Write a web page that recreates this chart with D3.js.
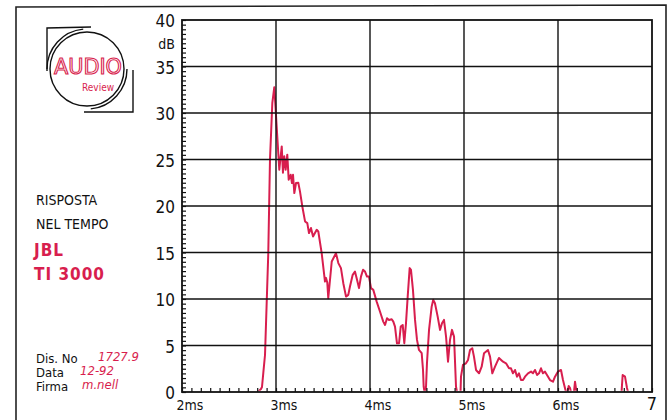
<!DOCTYPE html>
<html><head><meta charset="utf-8">
<script src="https://cdn.jsdelivr.net/npm/d3@7"></script>
<style>
html,body{margin:0;padding:0;background:#fff;}
text{font-family:"DejaVu Sans Condensed","DejaVu Sans",sans-serif;}
</style></head>
<body><svg id="c" width="671" height="420"></svg>
<script>
// time in ms
const timeMs = [2.809,2.840,2.851,2.865,2.883,2.918,2.936,2.961,2.982,3.007,3.035,3.061,3.074,3.088,3.103,3.120,3.135,3.156,3.170,3.181,3.195,3.213,3.237,3.255,3.280,3.309,3.333,3.351,3.372,3.394,3.433,3.450,3.486,3.521,3.532,3.546,3.556,3.593,3.638,3.663,3.691,3.716,3.745,3.769,3.787,3.816,3.840,3.862,3.883,3.904,3.926,3.947,3.968,3.989,4.011,4.035,4.071,4.106,4.141,4.160,4.181,4.202,4.231,4.248,4.266,4.287,4.309,4.327,4.348,4.365,4.383,4.401,4.422,4.436,4.457,4.479,4.500,4.521,4.550,4.564,4.571,4.580,4.590,4.596,4.606,4.628,4.656,4.673,4.691,4.720,4.745,4.766,4.787,4.809,4.830,4.851,4.872,4.894,4.915,4.926,4.963,4.968,4.989,5.021,5.043,5.064,5.088,5.106,5.128,5.160,5.188,5.213,5.255,5.277,5.301,5.330,5.372,5.415,5.447,5.479,5.500,5.521,5.543,5.564,5.585,5.606,5.628,5.649,5.681,5.713,5.734,5.755,5.777,5.798,5.819,5.840,5.862,5.883,5.915,5.947,5.968,6.000,6.032,6.053,6.074,6.085,6.101,6.114,6.128,6.138,6.170,6.181,6.197,6.676,6.688,6.713,6.734,6.745];
// level in dB
const levelDb = [0,0.32,0.54,2.05,3.98,14.97,24.98,31.1,32.77,28.57,23.9,26.41,23.58,25.34,23.9,25.52,22.83,23.36,22.47,23.36,21.39,22.47,22.5,21.57,19.95,18.34,18.16,17.09,17.63,16.72,17.44,17.26,14.93,11.88,12.27,11.74,10.09,14.03,14.93,13.86,13.32,11.7,10.26,10.44,11.34,12.6,12.95,12.06,11.17,12.41,13.14,12.95,12.41,12.41,11.17,10.98,9.72,8.65,7.57,7.21,7.94,7.75,7.83,7.57,7.03,5.24,5.24,7.03,7.21,5.24,7.4,10.26,13.32,13.14,10.98,7.75,5.6,4.52,4.17,2.37,0.57,0,0,0.57,3.09,6.68,9.18,9.91,9.55,8.11,6.68,7.4,7.75,5.95,3.26,5.6,6.68,5.95,0.57,0,0,1.65,2.91,3.09,3.45,4.52,4.71,3.8,2.37,2.01,2.72,4.17,4.52,3.8,2.01,2.72,3.66,3.26,3.09,2.55,2.55,2.01,2.37,1.65,2.01,1.29,1.29,1.65,2.01,2.19,2.01,2.37,1.83,2.01,2.55,2.01,2.19,1.83,1.29,1.11,1.65,2.19,2.37,1.29,0.43,0,0,0.65,0.43,0,0,1.11,0,0,1.83,1.65,0.43,0];
const yTickValues = [0,5,10,15,20,25,30,35,40];
const xTickValues = [2,3,4,5,6,7];
const xTickLabels = ["2ms","3ms","4ms","5ms","6ms","7"];
const titleLines = ["RISPOSTA","NEL TEMPO"];
const modelLines = ["JBL","TI 3000"];
const infoLabels = ["Dis. No","Data","Firma"];
const infoValues = ["1727.9","12-92","m.nell"];

const red = "#d81e4e";
const svg = d3.select("#c");
const x = d3.scaleLinear().domain([2,7]).range([182,652]);
const y = d3.scaleLinear().domain([0,40]).range([392,20]);

// outer frame
svg.append("path").attr("d","M16,420 L16,7 L666,5 L666,420").attr("fill","none").attr("stroke","#222").attr("stroke-width",1.6);

// curve (clipped above baseline)
svg.append("clipPath").attr("id","cl").append("rect")
  .attr("x",x(2)).attr("y",y(40)).attr("width",x(7)-x(2)).attr("height",y(0)-y(40)-1.2);
const pts = timeMs.map((t,i)=>[t,levelDb[i]]);
svg.append("path").datum(pts).attr("clip-path","url(#cl)")
  .attr("fill","none").attr("stroke",red).attr("stroke-width",2).attr("stroke-linejoin","round")
  .attr("d",d3.line().x(d=>x(d[0])).y(d=>y(d[1])));

// grid
const g = svg.append("g");
g.selectAll("line.h").data(yTickValues.filter(v=>v>0&&v<40)).join("line")
  .attr("x1",x(2)).attr("x2",x(7)).attr("y1",d=>y(d)).attr("y2",d=>y(d))
  .attr("stroke","#111").attr("stroke-width",1.4);
g.selectAll("line.v").data(xTickValues.filter(v=>v>2&&v<7)).join("line")
  .attr("y1",y(0)).attr("y2",y(40)).attr("x1",d=>x(d)).attr("x2",d=>x(d))
  .attr("stroke","#111").attr("stroke-width",1.4);
svg.append("rect").attr("x",x(2)).attr("y",y(40)).attr("width",x(7)-x(2)).attr("height",y(0)-y(40))
  .attr("fill","none").attr("stroke","#111").attr("stroke-width",1.8);

// minor ticks via axes
const yAx = d3.axisRight(y).ticks(80).tickSize(4).tickFormat("");
svg.append("g").attr("transform",`translate(${x(2)},0)`).call(yAx)
  .call(s=>{s.select(".domain").remove(); s.selectAll("line").attr("stroke","#111").attr("stroke-width",1.2);});
const xAx = d3.axisTop(x).ticks(50).tickSize(4).tickFormat("");
svg.append("g").attr("transform",`translate(0,${y(0)})`).call(xAx)
  .call(s=>{s.select(".domain").remove(); s.selectAll("line").attr("stroke","#111").attr("stroke-width",1.2);});

// tick labels
svg.selectAll("text.yl").data(yTickValues).join("text")
  .attr("x",175).attr("y",d=>y(d)+7).attr("text-anchor","end")
  .attr("font-size",17).attr("fill","#111").text(d=>d);
svg.append("text").attr("x",175).attr("y",y(40)+29).attr("text-anchor","end").attr("font-size",14).attr("fill","#111").text("dB");
svg.selectAll("text.xl").data(xTickValues).join("text")
  .attr("x",(d,i)=>x(d)+(i===5?0:8)).attr("y",410).attr("text-anchor","middle")
  .attr("font-size",(d,i)=>i===5?18:14).attr("fill","#111").text((d,i)=>xTickLabels[i]);

// left texts
svg.selectAll("text.t").data(titleLines).join("text")
  .attr("x",36).attr("y",(d,i)=>205+i*24).attr("font-size",14).attr("fill","#111").text(d=>d);
svg.selectAll("text.m").data(modelLines).join("text")
  .attr("x",34).attr("y",(d,i)=>256+i*24).attr("font-size",17).attr("font-weight","bold")
  .attr("letter-spacing",1).attr("fill",red).text(d=>d);
svg.selectAll("text.il").data(infoLabels).join("text")
  .attr("x",36).attr("y",(d,i)=>363+i*14).attr("font-size",13).attr("fill","#111").text(d=>d);
svg.selectAll("text.iv").data(infoValues).join("text")
  .attr("x",(d,i)=>[98,80,82][i]).attr("y",(d,i)=>361+i*14).attr("font-size",13)
  .attr("font-style","italic").attr("fill",red).text(d=>d);

// logo
const lg = svg.append("g");
lg.append("circle").attr("cx",87).attr("cy",69).attr("r",37).attr("fill","none").attr("stroke","#111").attr("stroke-width",1.4);
const arc = d3.arc();
lg.append("path").attr("transform","translate(87,69)")
  .attr("d",arc({innerRadius:40,outerRadius:40,startAngle:-Math.PI*0.5,endAngle:-Math.PI*0.03}))
  .attr("fill","none").attr("stroke","#111").attr("stroke-width",1.4);
lg.append("path").attr("transform","translate(87,69)")
  .attr("d",arc({innerRadius:40,outerRadius:40,startAngle:Math.PI*0.5,endAngle:Math.PI*0.97}))
  .attr("fill","none").attr("stroke","#111").attr("stroke-width",1.4);
lg.append("path").attr("d","M47,71 L47,28 L91,27").attr("fill","none").attr("stroke","#111").attr("stroke-width",1.4);
lg.append("path").attr("d","M84,112 L133,112 L133,70").attr("fill","none").attr("stroke","#111").attr("stroke-width",1.4);
lg.append("text").attr("x",88).attr("y",74).attr("text-anchor","middle").attr("font-size",21)
  .attr("textLength",68).attr("lengthAdjust","spacingAndGlyphs")
  .attr("fill","none").attr("stroke",red).attr("stroke-width",1).text("AUDIO");
lg.append("text").attr("x",98).attr("y",91).attr("text-anchor","middle").attr("font-size",10).attr("fill",red).text("Review");
</script></body></html>
